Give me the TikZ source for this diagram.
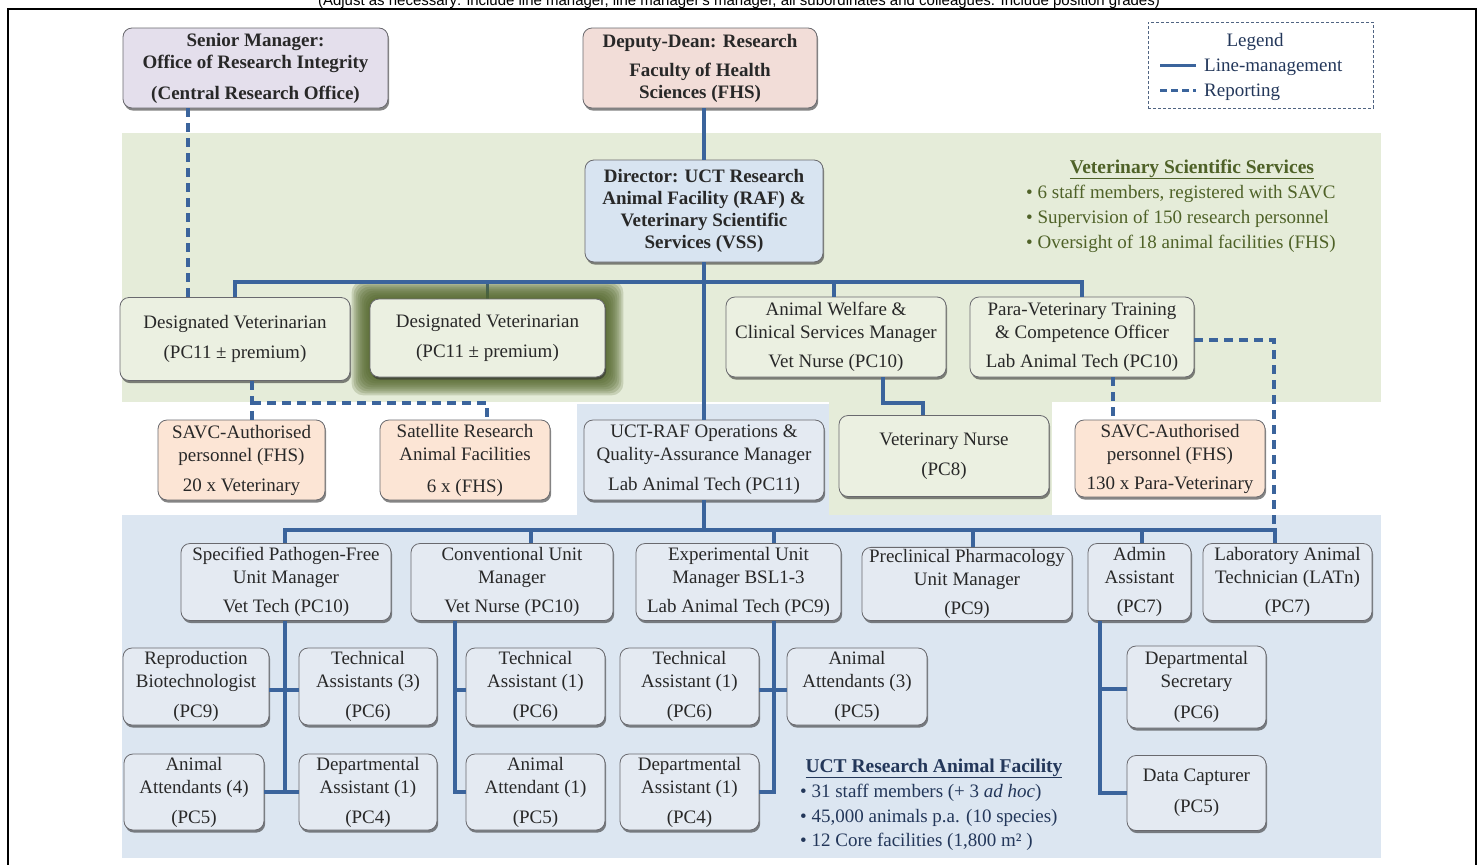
\documentclass[tikz,border=0pt]{standalone}
\usepackage{fontspec}
\setmainfont{Liberation Serif}
\newfontfamily\arialf{Liberation Sans}
\usetikzlibrary{shadows}
\pgfdeclarelayer{panels}
\pgfdeclarelayer{glowlayer}
\pgfsetlayers{panels,glowlayer,main}
\definecolor{lineblue}{RGB}{59,100,156}
\definecolor{boxline}{RGB}{105,105,110}
\definecolor{textc}{RGB}{40,40,40}
\definecolor{smfill}{RGB}{228,223,236}
\definecolor{ddfill}{RGB}{242,221,216}
\definecolor{dirfill}{RGB}{216,228,241}
\definecolor{grfill}{RGB}{235,240,225}
\definecolor{pchfill}{RGB}{252,229,213}
\definecolor{blfill}{RGB}{228,234,242}
\definecolor{grpanel}{RGB}{229,236,217}
\definecolor{blpanel}{RGB}{220,230,241}
\definecolor{olivec}{RGB}{79,98,40}
\definecolor{navyc}{RGB}{35,55,90}
\definecolor{legline}{RGB}{80,100,130}
\tikzset{
  box/.style={rounded corners=9pt, draw=boxline, line width=0.8pt, align=center,
    inner sep=2pt, text=textc, font=\fontsize{19}{23}\selectfont,
    drop shadow={shadow xshift=1.2pt, shadow yshift=-2.6pt, opacity=0.6, fill=black!80}},
  bx/.style n args={2}{box, minimum width=#1, minimum height=#2},
  boldbox/.style={font=\bfseries\fontsize{19}{22}\selectfont},
  mgmt/.style={draw=lineblue, line width=3.6pt},
  rep/.style={draw=lineblue, line width=3.6pt, dash pattern=on 9pt off 6pt},
  vsstxt/.style={text=olivec, font=\fontsize{19}{23}\selectfont, inner sep=0pt},
  ucttxt/.style={text=navyc, font=\fontsize{19}{23}\selectfont, inner sep=0pt},
  legtxt/.style={text=navyc, font=\fontsize{19}{23}\selectfont, inner sep=0pt},
}
\begin{document}
\begin{tikzpicture}[x=1pt,y=-1pt]
\useasboundingbox (0,0) rectangle (1481,865);

% top note (cut off by the page edge, as in the reference)
\node[font=\arialf\fontsize{15}{18}\selectfont, anchor=base, text=black, inner sep=0pt] (note) at (739,5)
  {(Adjust as necessary: include line manager, line manager's manager, all subordinates and colleagues. Include position grades)};

% frame
\draw[line width=2pt, black] (8,885) -- (8,9) -- (1476,9) -- (1476,885);

% panels
\begin{pgfonlayer}{panels}
  \fill[grpanel] (122,133) rectangle (1381,402);
  \fill[grpanel] (829,402) rectangle (1052,515);
  \fill[blpanel] (577,404) rectangle (829,515);
  \fill[blpanel] (122,515) rectangle (1381,858);
\end{pgfonlayer}

% top row
\node[bx={265}{80}, fill=smfill, boldbox] (sm) at (255.5,68)
  {Senior Manager:\\Office of Research Integrity\\[9pt](Central Research Office)};
\node[bx={234}{80}, fill=ddfill, boldbox] (dd) at (700,68)
  {Deputy-Dean: Research\\[7pt]Faculty of Health\\Sciences (FHS)};

% legend
\node[draw=legline, line width=0.7pt, dash pattern=on 3pt off 2pt, minimum width=225, minimum height=86, inner sep=0pt] (leg) at (1260.5,65) {};
\node[legtxt, anchor=base] (legt) at (1255,46) {Legend};
\coordinate (l1a) at (1160,65);
\coordinate (l1b) at (1196,65);
\coordinate (l2a) at (1160,90);
\coordinate (l2b) at (1196,90);
\draw[mgmt, line width=3pt] (l1a) -- (l1b);
\draw[draw=lineblue, line width=3pt, dash pattern=on 7pt off 4pt] (l2a) -- (l2b);
\node[legtxt, anchor=base west] (legl) at (1204,71) {Line-management};
\node[legtxt, anchor=base west] (legr) at (1204,96) {Reporting};

% director
\node[bx={238}{102}, fill=dirfill, boldbox] (dir) at (704,211)
  {Director: UCT Research\\Animal Facility (RAF) \&\\Veterinary Scientific\\Services (VSS)};

% VSS text
\node[vsstxt, anchor=base, font=\bfseries\fontsize{19.5}{23}\selectfont] (vsst) at (1192,173) {\underline{Veterinary Scientific Services}};
\node[vsstxt, anchor=base west] (vss1) at (1026,198) {• 6 staff members, registered with SAVC};
\node[vsstxt, anchor=base west] (vss2) at (1026,223) {• Supervision of 150 research personnel};
\node[vsstxt, anchor=base west] (vss3) at (1026,248) {• Oversight of 18 animal facilities (FHS)};

% second row
\node[bx={230}{83}, fill=grfill] (dv1) at (235,339) {Designated Veterinarian\\[7pt](PC11 ± premium)};
\node[bx={235}{78}, fill=grfill] (dv2) at (487.5,338) {Designated Veterinarian\\[7pt](PC11 ± premium)};
\node[bx={220}{80}, fill=grfill] (aw) at (836,337) {Animal Welfare \&\\Clinical Services Manager\\[6pt]Vet Nurse (PC10)};
\node[bx={224}{80}, fill=grfill] (pv) at (1082,337) {Para-Veterinary Training\\\& Competence Officer\\[6pt]Lab Animal Tech (PC10)};

% glow around second designated veterinarian
\begin{pgfonlayer}{glowlayer}
  \foreach \i in {18,16,...,2}
    \fill[olivec, opacity=0.2, rounded corners=12pt]
      ([xshift=-\i pt, yshift=-\i pt]dv2.south west) rectangle ([xshift=\i pt, yshift=\i pt]dv2.north east);
\end{pgfonlayer}

% third row
\node[bx={167}{80}, fill=pchfill] (savc1) at (241.5,460) {SAVC-Authorised\\personnel (FHS)\\[7pt]20 x Veterinary};
\node[bx={170}{80}, fill=pchfill] (sat) at (465,460) {Satellite Research\\Animal Facilities\\[9pt]6 x (FHS)};
\node[bx={240}{80}, fill=blfill] (ops) at (704,460) {UCT-RAF Operations \&\\Quality-Assurance Manager\\[7pt]Lab Animal Tech (PC11)};
\node[bx={210}{81}, fill=grfill] (vn) at (944,456) {Veterinary Nurse\\[7pt](PC8)};
\node[bx={190}{77}, fill=pchfill] (savc2) at (1170,458.5) {SAVC-Authorised\\personnel (FHS)\\[6pt]130 x Para-Veterinary};

% unit managers
\node[bx={210}{77}, fill=blfill] (spf) at (286,582) {Specified Pathogen-Free\\Unit Manager\\[6pt]Vet Tech (PC10)};
\node[bx={202}{77}, fill=blfill] (conv) at (512,582) {Conventional Unit\\Manager\\[6pt]Vet Nurse (PC10)};
\node[bx={205}{77}, fill=blfill] (exp) at (738.5,582) {Experimental Unit\\Manager BSL1-3\\[6pt]Lab Animal Tech (PC9)};
\node[bx={210}{73}, fill=blfill] (pre) at (967,584) {Preclinical Pharmacology\\Unit Manager\\[6pt](PC9)};
\node[bx={103}{77}, fill=blfill] (adm) at (1139.5,582) {Admin\\Assistant\\[6pt](PC7)};
\node[bx={169}{77}, fill=blfill] (lat) at (1287.5,582) {Laboratory Animal\\Technician (LATn)\\[6pt](PC7)};

% staff row 1
\node[bx={146}{77}, fill=blfill] (rb) at (196,686.5) {Reproduction\\Biotechnologist\\[7pt](PC9)};
\node[bx={138}{77}, fill=blfill] (ta3) at (368,686.5) {Technical\\Assistants (3)\\[7pt](PC6)};
\node[bx={139}{77}, fill=blfill] (ta1c) at (535.5,686.5) {Technical\\Assistant (1)\\[7pt](PC6)};
\node[bx={139}{77}, fill=blfill] (ta1e) at (689.5,686.5) {Technical\\Assistant (1)\\[7pt](PC6)};
\node[bx={140}{77}, fill=blfill] (aa3) at (857,686.5) {Animal\\Attendants (3)\\[7pt](PC5)};
\node[bx={139}{82}, fill=blfill] (ds) at (1196.5,687) {Departmental\\Secretary\\[8pt](PC6)};

% staff row 2
\node[bx={140}{76}, fill=blfill] (aa4) at (194,792) {Animal\\Attendants (4)\\[7pt](PC5)};
\node[bx={138}{76}, fill=blfill] (da1) at (368,792) {Departmental\\Assistant (1)\\[7pt](PC4)};
\node[bx={139}{76}, fill=blfill] (aa1) at (535.5,792) {Animal\\Attendant (1)\\[7pt](PC5)};
\node[bx={139}{76}, fill=blfill] (da1e) at (689.5,792) {Departmental\\Assistant (1)\\[7pt](PC4)};
\node[bx={139}{75}, fill=blfill] (dc) at (1196.5,793) {Data Capturer\\[8pt](PC5)};

% UCT RAF text
\node[ucttxt, anchor=base, font=\bfseries\fontsize{19.5}{23}\selectfont] (uctt) at (934,772) {\underline{UCT Research Animal Facility}};
\node[ucttxt, anchor=base west] (uct1) at (800,797) {• 31 staff members (+ 3 \textit{ad hoc})};
\node[ucttxt, anchor=base west] (uct2) at (800,822) {• 45,000 animals p.a. (10 species)};
\node[ucttxt, anchor=base west] (uct3) at (800,846) {• 12 Core facilities (1,800 m² )};

% ---------- connectors ----------
\coordinate (gbus) at (0,282);
\coordinate (bbus) at (0,530);

\draw[mgmt] (dd.south -| dir.north) -- (dir.north);
\draw[rep] (sm.south -| 188,0) -- (dv1.north -| 188,0);
\draw[mgmt] (dir.south) -- (ops.north);
\draw[mgmt] (dv1.north) |- (pv.north |- gbus) -- (pv.north);
\draw[mgmt] (aw.north -| 834,0) -- (834,282);
\begin{pgfonlayer}{panels}
  \draw[mgmt] (dv2.north) -- (dv2.north |- gbus);
\end{pgfonlayer}
\draw[rep] (dv1.south -| 252,0) -- (savc1.north -| 252,0);
\draw[rep] (252,403) -| (sat.north -| 487,0);
\draw[mgmt] (aw.south -| 883,0) |- (923,403) -- (vn.north -| 923,0);
\draw[rep] (pv.south -| 1113,0) -- (savc2.north -| 1113,0);
\draw[rep] (pv.east |- 0,340) -| (1274,528);

\draw[mgmt] (ops.south) -- (ops.south |- bbus);
\draw[mgmt] (spf.north -| 285,0) |- (1275,530) -- (lat.north -| 1275,0);
\foreach \xx/\nn in {531/conv, 774/exp, 973/pre, 1142/adm}
  \draw[mgmt] (\xx,530) -- (\nn.north -| \xx,0);

\draw[mgmt] (spf.south -| 285,0) -- (285,793.8);
\draw[mgmt] (rb.east |- 0,690) -- (ta3.west |- 0,690);
\draw[mgmt] (aa4.east) -- (da1.west);
\draw[mgmt] (conv.south -| 455,0) |- (aa1.west);
\draw[mgmt] (455,690) -- (ta1c.west |- 0,690);
\draw[mgmt] (exp.south -| 774,0) |- (da1e.east);
\draw[mgmt] (ta1e.east |- 0,690) -- (aa3.west |- 0,690);
\draw[mgmt] (adm.south -| 1100,0) |- (dc.west);
\draw[mgmt] (1100,689) -- (ds.west |- 0,689);
\end{tikzpicture}
\end{document}
